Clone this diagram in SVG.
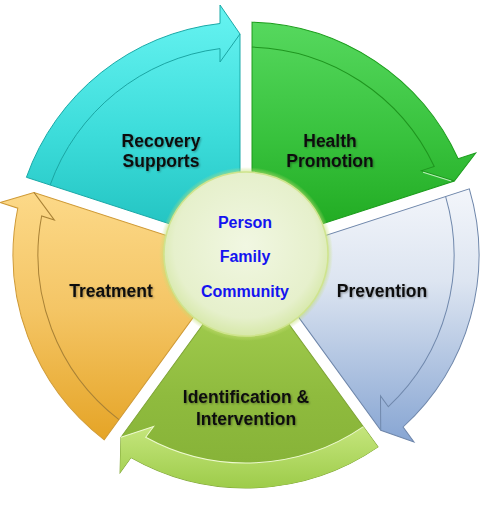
<svg xmlns="http://www.w3.org/2000/svg" width="490" height="513" viewBox="0 0 490 513">
<defs>
<linearGradient id="gRec" gradientUnits="userSpaceOnUse" x1="0" y1="-240" x2="0" y2="0"><stop offset="0" stop-color="#64f2f0"/><stop offset="0.5" stop-color="#3cdcda"/><stop offset="1" stop-color="#1cbdbb"/></linearGradient>
<linearGradient id="gHea" gradientUnits="userSpaceOnUse" x1="0" y1="-233" x2="0" y2="0" gradientTransform="rotate(-72)"><stop offset="0" stop-color="#56d85e"/><stop offset="0.5" stop-color="#38c23d"/><stop offset="1" stop-color="#1aa41a"/></linearGradient>
<linearGradient id="gPre" gradientUnits="userSpaceOnUse" x1="0" y1="-80" x2="0" y2="185" gradientTransform="rotate(-144)"><stop offset="0" stop-color="#f6f8fc"/><stop offset="0.4" stop-color="#dde5f1"/><stop offset="1" stop-color="#88a6d3"/></linearGradient>
<linearGradient id="gIde" gradientUnits="userSpaceOnUse" x1="0" y1="0" x2="0" y2="235" gradientTransform="rotate(-216)"><stop offset="0" stop-color="#acd658"/><stop offset="0.6" stop-color="#8fbb3e"/><stop offset="1" stop-color="#84b036"/></linearGradient>
<linearGradient id="gIdeB" gradientUnits="userSpaceOnUse" x1="0" y1="170" x2="0" y2="235" gradientTransform="rotate(-216)"><stop offset="0" stop-color="#c6e67e"/><stop offset="1" stop-color="#9ccb48"/></linearGradient>
<linearGradient id="gTre" gradientUnits="userSpaceOnUse" x1="0" y1="-75" x2="0" y2="185" gradientTransform="rotate(-288)"><stop offset="0" stop-color="#fddb8c"/><stop offset="0.5" stop-color="#f4c565"/><stop offset="1" stop-color="#e5a426"/></linearGradient>
<radialGradient id="gCen" cx="0.5" cy="0.45" r="0.55"><stop offset="0" stop-color="#f1f7e2"/><stop offset="0.8" stop-color="#e6f0cc"/><stop offset="1" stop-color="#d6e8a8"/></radialGradient>
<radialGradient id="gHalo" cx="0.5" cy="0.5" r="0.5"><stop offset="0.9" stop-color="#c4de74" stop-opacity="1"/><stop offset="1" stop-color="#c4de74" stop-opacity="0"/></radialGradient>
<filter id="sh" x="-10%" y="-20%" width="120%" height="150%"><feDropShadow dx="1" dy="1" stdDeviation="0.8" flood-color="#000" flood-opacity="0.35"/></filter>
<path id="seg" d="M -6,-8.26 L -219.6,-77.7 A 233 233 0 0 1 -26,-231.5 L -26,-250 L -6,-221 Z"/>
<path id="band" d="M -219.6,-77.7 A 233 233 0 0 1 -26,-231.5 L -26,-250 L -6,-221 L -26,-193 L -26,-206.4 A 208 208 0 0 0 -195.9,-69.9 Z"/>
<path id="inner" d="M -195.9,-69.9 A 208 208 0 0 1 -26,-206.4 L -26,-193 L -6,-221"/>
</defs>
<style>
.lbl{font-family:"Liberation Sans",Arial,sans-serif;font-weight:bold;font-size:17.5px;fill:#111;text-anchor:middle;filter:url(#sh)}
.cen{font-family:"Liberation Sans",Arial,sans-serif;font-weight:bold;font-size:16px;fill:#1414f0;text-anchor:middle}
.inl{fill:none;stroke-width:1}
</style>
<rect width="490" height="513" fill="#ffffff"/>
<g id="connectors"></g>
<g id="recovery">
<g transform="translate(246,255)">
<use href="#seg" fill="url(#gRec)" stroke="#1aa9a7" stroke-width="1"/>
<use href="#inner" class="inl" stroke="#1ba6a4"/>
</g>
<text class="lbl" x="161" y="147">Recovery</text>
<text class="lbl" x="161" y="167">Supports</text>
</g>
<g id="health">
<g transform="translate(246,255) rotate(72)">
<use href="#seg" fill="url(#gHea)" stroke="#1b9c1b" stroke-width="1"/>
<use href="#inner" class="inl" stroke="#1f951f"/>
<path d="M -24,-194 L -7,-218" stroke="#b8f0b8" stroke-width="1.2" fill="none"/>
</g>
<text class="lbl" x="330" y="147">Health</text>
<text class="lbl" x="330" y="167">Promotion</text>
</g>
<g id="prevention">
<g transform="translate(246,255) rotate(144)">
<use href="#seg" fill="url(#gPre)" stroke="#6e86aa" stroke-width="1"/>
<use href="#inner" class="inl" stroke="#7088ac"/>
</g>
<text class="lbl" x="382" y="297">Prevention</text>
</g>
<g id="identification">
<g transform="translate(246,255) rotate(216)">
<use href="#seg" fill="url(#gIde)" stroke="#7ea434" stroke-width="1"/>
<use href="#band" fill="url(#gIdeB)" stroke="none"/>
<use href="#inner" class="inl" stroke="#eefad0" stroke-width="1.5"/>
</g>
<text class="lbl" x="246" y="403">Identification &amp;</text>
<text class="lbl" x="246" y="425">Intervention</text>
</g>
<g id="treatment">
<g transform="translate(246,255) rotate(288)">
<use href="#seg" fill="url(#gTre)" stroke="#cf9a36" stroke-width="1"/>
<use href="#inner" class="inl" stroke="#a98236"/>
</g>
<text class="lbl" x="111" y="297">Treatment</text>
</g>
<g id="center">
<circle cx="246" cy="254" r="87" fill="url(#gHalo)"/>
<circle cx="246" cy="254" r="82" fill="url(#gCen)" stroke="#cfe48e" stroke-width="1.5"/>
<text class="cen" x="245" y="228">Person</text>
<text class="cen" x="245" y="262">Family</text>
<text class="cen" x="245" y="297">Community</text>
</g>
</svg>
